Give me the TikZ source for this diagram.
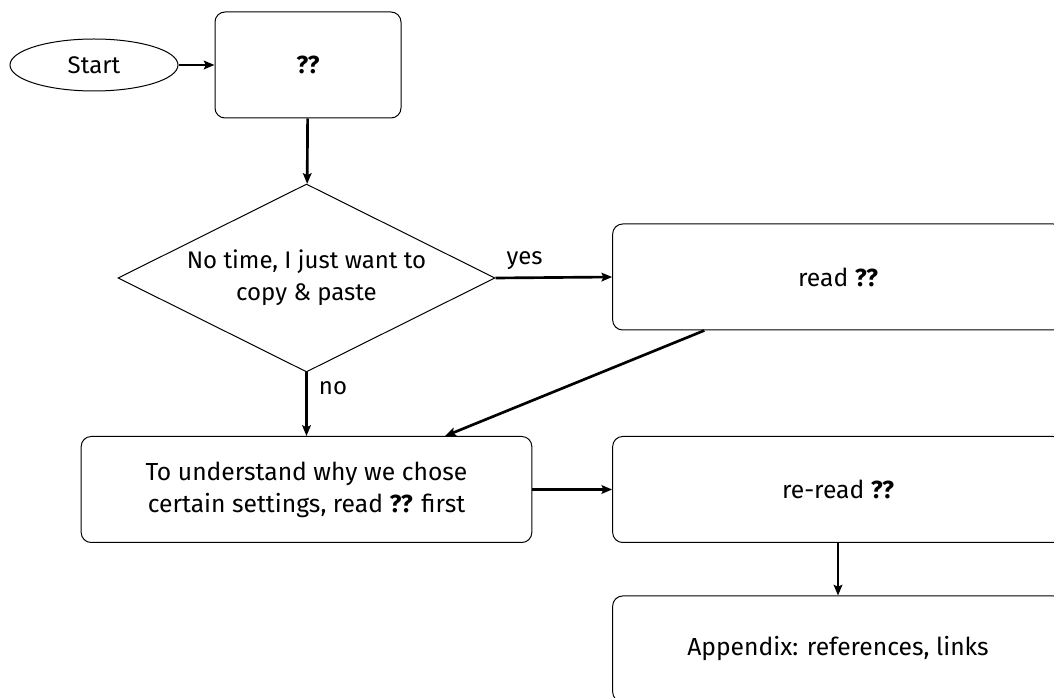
\documentclass[tikz,border=0pt]{standalone}
\usepackage{fontspec}
\setmainfont{Fira Sans}
\usetikzlibrary{shapes.geometric,arrows.meta,calc}

\tikzset{
  flowtext/.style={font=\fontsize{18}{24}\selectfont},
  flowbox/.style={draw, line width=0.75pt, rounded corners=7.5pt, align=center, inner sep=0pt,
    minimum width=338pt, minimum height=79.5pt, font=\fontsize{18.5}{24}\selectfont},
  flowarrow/.style={line width=2pt, -{Stealth[length=8pt,width=6.5pt,inset=1.5pt]}},
}

\begin{document}
\begin{tikzpicture}[x=0.75pt,y=0.75pt,yscale=-1,xscale=1]
        \clip (0,0) rectangle (1054,698);
        \path[fill=white] (0,0) rectangle (1054,698);

        %Shape: Ellipse [id:start]
        \node (start) [draw, line width=0.75pt, ellipse, inner sep=0pt, minimum width=126pt, minimum height=39pt,
          flowtext] at (94,65) {Start};
        %Shape: Rectangle [id:refs]
        \node (refs) [flowbox, minimum width=139.5pt] at (308,65) {\textbf{??}};
        %Shape: Diamond [id:quick]
        \node (quick) [draw, line width=0.75pt, diamond, aspect=2, inner sep=0pt, align=center,
          minimum width=282.75pt, minimum height=141pt, flowtext]
          at (306.5,278) {No time, I just want to\\copy \& paste};
        %Shape: Rectangle [id:readq]
        \node (readq) [flowbox] at (838,277) {read \textbf{??}};
        %Shape: Rectangle [id:understand]
        \node (understand) [flowbox] at (306.5,489.5) {To understand why we chose\\certain settings, read \textbf{??} first};
        %Shape: Rectangle [id:reread]
        \node (reread) [flowbox] at (838,489.5) {re-read \textbf{??}};
        %Shape: Rectangle [id:appendix]
        \node (appendix) [flowbox] at (838,649) {Appendix: references, links};

        %Straight Lines [id:arrows]
        \draw [flowarrow] (start) -- (refs);
        \draw [flowarrow] (refs) -- (quick);
        \draw [flowarrow] (quick.east) -- node[pos=0.25, above=2pt, flowtext] {yes} (readq.west);
        \draw [flowarrow] (quick.south) -- node[pos=0.25, right=5pt, flowtext] {no} (understand.north);
        \draw [flowarrow] ($(readq.south west)!0.204!(readq.south east)$) -- ($(understand.north west)!0.807!(understand.north east)$);
        \draw [flowarrow] (understand) -- (reread);
        \draw [flowarrow] (reread) -- (appendix);
    \end{tikzpicture}
\end{document}
